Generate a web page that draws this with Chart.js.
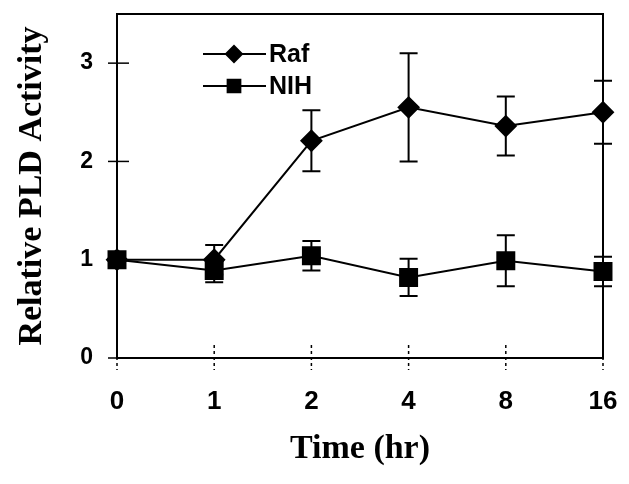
<!DOCTYPE html>
<html>
<head>
<meta charset="utf-8">
<script src="https://cdn.jsdelivr.net/npm/chart.js@4/dist/chart.umd.min.js"></script>
<style>
  html, body { margin: 0; padding: 0; background: #fff; }
</style>
</head>
<body>
<canvas id="chart" width="629" height="484"></canvas>
<script>
const timeLabels = ['0', '1', '2', '4', '8', '16'];
const rafValues = [1.0, 1.0, 2.21, 2.55, 2.36, 2.50];
const rafErrors = [0, 0.15, 0.31, 0.55, 0.30, 0.32];
const nihValues = [1.0, 0.89, 1.04, 0.82, 0.99, 0.88];
const nihErrors = [0, 0.12, 0.15, 0.19, 0.26, 0.15];
const yTicks = [0, 1, 2, 3];

const sans = "'Liberation Sans', Arial, sans-serif";
const serif = "'Liberation Serif', 'Times New Roman', serif";

// error bars, frame, inner ticks and legend
const extras = {
    id: 'extras',
    beforeDatasetsDraw(chart) {
        const ctx = chart.ctx;
        const x = chart.scales.x, y = chart.scales.y;
        ctx.save();
        ctx.strokeStyle = '#000';
        ctx.lineWidth = 2;
        [[rafValues, rafErrors], [nihValues, nihErrors]].forEach(([vals, errs]) => {
            vals.forEach((v, i) => {
                if (!errs[i]) return;
                const px = x.getPixelForValue(i);
                const top = y.getPixelForValue(v + errs[i]);
                const bot = y.getPixelForValue(v - errs[i]);
                ctx.beginPath();
                ctx.moveTo(px, top); ctx.lineTo(px, bot);
                ctx.moveTo(px - 9, top); ctx.lineTo(px + 9, top);
                ctx.moveTo(px - 9, bot); ctx.lineTo(px + 9, bot);
                ctx.stroke();
            });
        });
        ctx.restore();
    },
    afterDraw(chart) {
        const ctx = chart.ctx;
        const a = chart.chartArea;
        const x = chart.scales.x, y = chart.scales.y;
        ctx.save();
        ctx.strokeStyle = '#000';
        ctx.lineWidth = 2;
        ctx.strokeRect(a.left, a.top, a.right - a.left, a.bottom - a.top);

        // y ticks crossing the axis
        ctx.lineWidth = 1.5;
        yTicks.forEach(v => {
            const py = y.getPixelForValue(v);
            ctx.beginPath();
            ctx.moveTo(a.left - 9, py); ctx.lineTo(a.left + 12, py);
            ctx.stroke();
        });
        // dashed x ticks
        ctx.setLineDash([3, 3]);
        timeLabels.forEach((l, i) => {
            const px = x.getPixelForValue(i);
            ctx.beginPath();
            ctx.moveTo(px, a.bottom - 13); ctx.lineTo(px, a.bottom + 12);
            ctx.stroke();
        });
        ctx.setLineDash([]);

        // legend inside plot
        ctx.lineWidth = 2;
        ctx.font = 'bold 25px ' + sans;
        ctx.fillStyle = '#000';
        ctx.textBaseline = 'middle';
        const legendRadius = [8, 9];
        chart.data.datasets.forEach((ds, k) => {
            const ly = 54 + k * 32;
            ctx.beginPath();
            ctx.moveTo(203, ly); ctx.lineTo(266, ly);
            ctx.stroke();
            Chart.helpers.drawPoint(ctx, {
                pointStyle: ds.pointStyle, radius: legendRadius[k], rotation: 0, borderWidth: 1
            }, 234, ly);
            ctx.fill();
            ctx.fillText(ds.label, 269, ly + 1);
        });
        ctx.restore();
    }
};

new Chart(document.getElementById('chart'), {
    type: 'line',
    data: {
        labels: timeLabels,
        datasets: [
            {
                label: 'Raf',
                data: rafValues,
                borderColor: '#000',
                backgroundColor: '#000',
                borderWidth: 2,
                pointStyle: 'rectRot',
                pointRadius: 10,
                tension: 0
            },
            {
                label: 'NIH',
                data: nihValues,
                borderColor: '#000',
                backgroundColor: '#000',
                borderWidth: 2,
                pointStyle: 'rect',
                pointRadius: 12,
                tension: 0
            }
        ]
    },
    options: {
        responsive: false,
        animation: false,
        layout: { padding: { top: 13, right: 26, left: 0, bottom: 0 } },
        plugins: { legend: { display: false }, tooltip: { enabled: false } },
        scales: {
            x: {
                offset: false,
                afterFit: s => { s.height = 126; s.paddingLeft = 0; s.paddingRight = 0; },
                grid: { display: false, drawTicks: false },
                border: { display: false },
                ticks: { color: '#000', font: { family: sans, size: 26, weight: 'bold' }, padding: 28, maxRotation: 0 },
                title: {
                    display: true, text: 'Time (hr)', color: '#000',
                    font: { family: serif, size: 34, weight: 'bold' },
                    padding: { top: 0, bottom: 14 }
                }
            },
            y: {
                min: 0,
                max: 3.5,
                afterFit: s => { s.width = 117; s.paddingTop = 0; s.paddingBottom = 0; },
                afterBuildTicks: s => { s.ticks = yTicks.map(v => ({ value: v })); },
                grid: { display: false, drawTicks: false },
                border: { display: false },
                ticks: { color: '#000', font: { family: sans, size: 23, weight: 'bold' }, padding: 24 },
                title: {
                    display: true, text: 'Relative PLD Activity', color: '#000',
                    font: { family: serif, size: 34, weight: 'bold' },
                    padding: { top: 12, bottom: 0 }
                }
            }
        }
    },
    plugins: [extras]
});
</script>
</body>
</html>
